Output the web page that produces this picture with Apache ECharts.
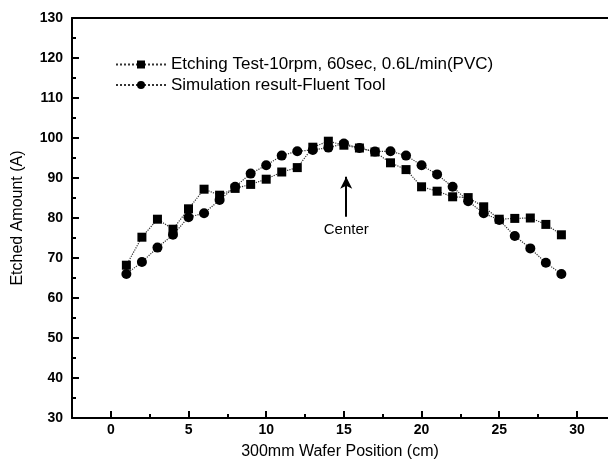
<!DOCTYPE html>
<html>
<head>
<meta charset="utf-8">
<script src="https://cdn.jsdelivr.net/npm/echarts@6/dist/echarts.min.js"></script>
<style>
  html, body { margin: 0; padding: 0; background: #fff; }
  #chart { width: 608px; height: 470px; }
</style>
</head>
<body>
<div id="chart"></div>
<script>
// wafer positions (cm)
const positions = [1, 2, 3, 4, 5, 6, 7, 8, 9, 10, 11, 12, 13, 14, 15, 16, 17, 18, 19, 20, 21, 22, 23, 24, 25, 26, 27, 28, 29];
// etching test, squares
const etchTest = [68.2, 75.2, 79.7, 77.2, 82.3, 87.2, 85.7, 87.4, 88.4, 89.7, 91.5, 92.6, 97.7, 99.2, 98.2, 97.5, 96.5, 93.8, 92.1, 87.8, 86.7, 85.3, 85.1, 82.8, 79.7, 79.9, 80.0, 78.4, 75.8];
// fluent simulation, circles
const simResult = [66.0, 69.0, 72.6, 75.8, 80.2, 81.2, 84.5, 87.8, 91.1, 93.2, 95.6, 96.7, 97.0, 97.6, 98.6, 97.5, 96.6, 96.7, 95.6, 93.2, 90.9, 87.8, 84.2, 81.2, 79.5, 75.5, 72.4, 68.8, 66.0];

const xMajorTicks = [0, 5, 10, 15, 20, 25, 30];
const xMinorTicks = [-2.5, 2.5, 7.5, 12.5, 17.5, 22.5, 27.5];
const centerArrow = { x: 15.15, from: 80.3, to: 90.3, label: 'Center', labelY: 77 };

const font = '"Liberation Sans", Arial, sans-serif';
const pair = (ys) => positions.map((x, i) => [x, ys[i]]);

const chart = echarts.init(document.getElementById('chart'));
chart.setOption({
    animation: false,
    backgroundColor: '#fff',
    textStyle: { fontFamily: font, color: '#000' },
    grid: { left: 72, right: 0, top: 18, bottom: 52, outerBoundsMode: 'none' },
    legend: {
        left: 110,
        top: 51,
        orient: 'vertical',
        itemWidth: 50,
        itemHeight: 10,
        itemGap: 3.5,
        textStyle: { fontSize: 17, color: '#000', fontFamily: font },
        data: ['Etching Test-10rpm, 60sec, 0.6L/min(PVC)', 'Simulation result-Fluent Tool']
    },
    xAxis: [
        {
            type: 'value', position: 'bottom', min: -2.5, max: 32,
            name: '300mm Wafer Position (cm)', nameLocation: 'middle', nameGap: 26,
            nameTextStyle: { fontSize: 16, color: '#000', fontFamily: font },
            axisLine: { show: true, onZero: false, lineStyle: { color: '#000', width: 2 } },
            axisTick: { show: true, inside: true, length: 7, customValues: xMajorTicks, lineStyle: { color: '#000', width: 2 } },
            axisLabel: { customValues: xMajorTicks, fontSize: 14, fontWeight: 'bold', color: '#000', margin: 5 },
            splitLine: { show: false }
        },
        {
            // minor ticks only
            type: 'value', position: 'bottom', min: -2.5, max: 32,
            axisLine: { show: false, onZero: false },
            axisTick: { show: true, inside: true, length: 4, customValues: xMinorTicks, lineStyle: { color: '#000', width: 2 } },
            axisLabel: { show: false },
            splitLine: { show: false }
        },
        {
            // top frame
            type: 'value', position: 'top', min: -2.5, max: 32,
            axisLine: { show: true, onZero: false, lineStyle: { color: '#000', width: 2 } },
            axisTick: { show: false },
            axisLabel: { show: false },
            splitLine: { show: false }
        }
    ],
    yAxis: {
        type: 'value', min: 30, max: 130, interval: 10,
        name: 'Etched Amount (A)', nameLocation: 'middle', nameGap: 46,
        nameTextStyle: { fontSize: 16, color: '#000', fontFamily: font },
        axisLine: { show: true, onZero: false, lineStyle: { color: '#000', width: 2 } },
        axisTick: { show: true, inside: true, length: 7, lineStyle: { color: '#000', width: 2 } },
        minorTick: { show: true, splitNumber: 2, length: 4, lineStyle: { color: '#000', width: 2 } },
        axisLabel: { fontSize: 14, fontWeight: 'bold', color: '#000', margin: 9 },
        splitLine: { show: false }
    },
    series: [
        {
            name: 'Etching Test-10rpm, 60sec, 0.6L/min(PVC)',
            type: 'line',
            data: pair(etchTest),
            symbol: 'rect',
            symbolSize: 9,
            itemStyle: { color: '#000' },
            lineStyle: { color: '#333', width: 1.2, type: 'dotted' },
            markLine: {
                silent: true,
                symbol: ['none', 'arrow'],
                symbolSize: [9, 12],
                lineStyle: { color: '#000', width: 2, type: 'solid' },
                label: { show: false },
                data: [[{ coord: [centerArrow.x, centerArrow.from] }, { coord: [centerArrow.x, centerArrow.to] }]]
            },
            markPoint: {
                silent: true,
                symbol: 'circle',
                symbolSize: 1,
                itemStyle: { color: 'transparent' },
                label: { show: true, formatter: centerArrow.label, position: 'inside', fontSize: 15, color: '#000', fontFamily: font },
                data: [{ coord: [centerArrow.x, centerArrow.labelY] }]
            }
        },
        {
            name: 'Simulation result-Fluent Tool',
            type: 'line',
            data: pair(simResult),
            symbol: 'circle',
            symbolSize: 10,
            itemStyle: { color: '#000' },
            lineStyle: { color: '#333', width: 1.2, type: 'dotted' }
        }
    ]
});
</script>
</body>
</html>
